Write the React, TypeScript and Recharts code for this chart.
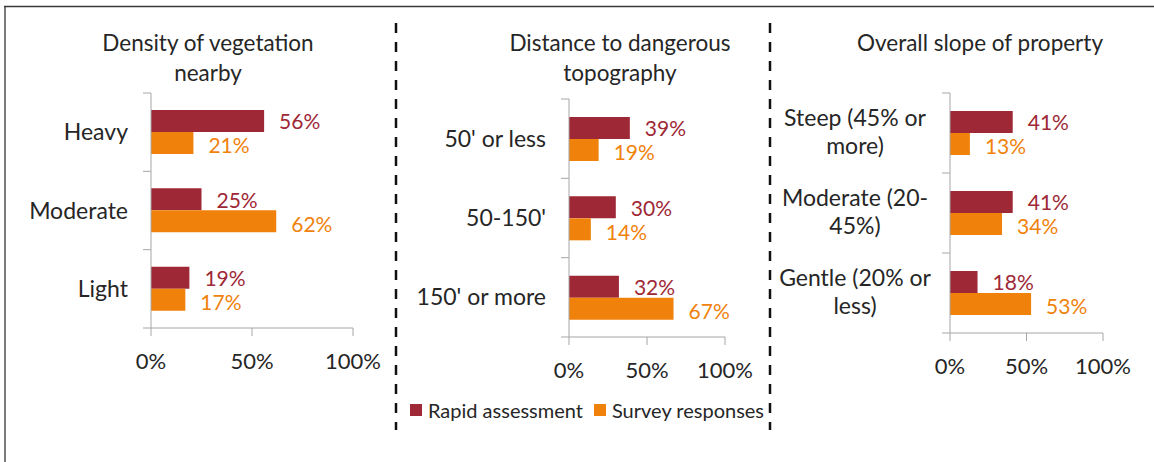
import { Bar, BarChart, LabelList, Legend, XAxis, YAxis } from "recharts";

const vegetationCategories = ["Heavy", "Moderate", "Light"];
const vegetationRapid = [56, 25, 19];
const vegetationSurvey = [21, 62, 17];

const topographyCategories = ["50' or less", "50-150'", "150' or more"];
const topographyRapid = [39, 30, 32];
const topographySurvey = [19, 14, 67];

const slopeCategories = [["Steep (45% or", "more)"], ["Moderate (20-", "45%)"], ["Gentle (20% or", "less)"]];
const slopeRapid = [41, 41, 18];
const slopeSurvey = [13, 34, 53];

const percentTicks = [0, 50, 100];
const seriesNames = ["Rapid assessment", "Survey responses"];

const MAROON = "#9E2836";
const ORANGE = "#F0820C";
const TEXT = "#262626";
const AXIS = "#a6a6a6";
const FONT = "Lato, 'Open Sans', sans-serif";

type Panel = {
  left: number;
  width: number;
  plotLeft: number;
  plotRight: number;
  plotTop: number;
  plotBottom: number;
  labels: string[][];
  rapid: number[];
  survey: number[];
  legend?: boolean;
};

const H = 462;
const XH = 40;

function CategoryTick(props: any & { panel: Panel }) {
  const { y, payload, index, panel } = props;
  const band = (panel.plotBottom - panel.plotTop) / panel.labels.length;
  const ax = panel.plotLeft - panel.left;
  const lines: string[] = panel.labels[index] ?? [String(payload.value)];
  const top = y - band / 2;
  return (
    <g>
      <line x1={ax - 8} x2={ax} y1={top} y2={top} stroke={AXIS} />
      {index === panel.labels.length - 1 && (
        <line x1={ax - 8} x2={ax} y1={top + band} y2={top + band} stroke={AXIS} />
      )}
      {lines.length === 1 ? (
        <text x={ax - 23} y={y} dy="0.35em" textAnchor="end" fontSize={23} fill={TEXT}>
          {lines[0]}
        </text>
      ) : (
        <text textAnchor="middle" fontSize={23} fill={TEXT}>
          <tspan x={ax - 95} y={y - 15} dy="0.35em">{lines[0]}</tspan>
          <tspan x={ax - 95} y={y + 13} dy="0.35em">{lines[1]}</tspan>
        </text>
      )}
    </g>
  );
}

function LegendContent() {
  const colors = [MAROON, ORANGE];
  return (
    <div style={{ display: "flex", justifyContent: "center", alignItems: "center", fontSize: 20, color: TEXT, lineHeight: "22px" }}>
      {seriesNames.map((n, i) => (
        <span key={n} style={{ display: "inline-flex", alignItems: "center", marginRight: i === 0 ? 11 : 0 }}>
          <span style={{ width: 12, height: 12, background: colors[i], display: "inline-block", marginRight: 6 }} />
          {n}
        </span>
      ))}
    </div>
  );
}

function PanelChart({ panel }: { panel: Panel }) {
  const data = panel.labels.map((l, i) => ({
    name: l.join(" "),
    rapid: panel.rapid[i],
    survey: panel.survey[i],
  }));
  return (
    <div style={{ position: "absolute", left: panel.left, top: 0 }}>
      <BarChart
        width={panel.width}
        height={H}
        data={data}
        layout="vertical"
        barSize={22}
        barGap={0}
        margin={{
          top: panel.plotTop,
          right: panel.left + panel.width - panel.plotRight,
          bottom: H - panel.plotBottom - XH,
          left: 0,
        }}
      >
        <XAxis
          type="number"
          domain={[0, 100]}
          ticks={percentTicks}
          tickFormatter={(v) => `${v}%`}
          height={XH}
          tickSize={8}
          tickMargin={17}
          axisLine={{ stroke: AXIS }}
          tickLine={{ stroke: AXIS }}
          tick={{ fill: TEXT, fontSize: 22 }}
          interval={0}
        />
        <YAxis
          type="category"
          dataKey="name"
          width={panel.plotLeft - panel.left}
          axisLine={{ stroke: AXIS }}
          tickLine={false}
          tickSize={8}
          interval={0}
          tick={(p: any) => <CategoryTick {...p} panel={panel} />}
        />
        {panel.legend && (
          <Legend
            layout="horizontal"
            verticalAlign="middle"
            align="center"
            content={<LegendContent />}
            wrapperStyle={{ top: 399, left: 4, width: panel.width }}
          />
        )}
        <Bar dataKey="rapid" name={seriesNames[0]} fill={MAROON} isAnimationActive={false}>
          <LabelList dataKey="rapid" position="right" offset={15} dy={1} fill={MAROON} fontSize={21} formatter={(v: any) => `${v}%`} />
        </Bar>
        <Bar dataKey="survey" name={seriesNames[1]} fill={ORANGE} isAnimationActive={false}>
          <LabelList dataKey="survey" position="right" offset={15} dy={3} fill={ORANGE} fontSize={21} formatter={(v: any) => `${v}%`} />
        </Bar>
      </BarChart>
    </div>
  );
}

const panels: Panel[] = [
  {
    left: 0, width: 394, plotLeft: 151, plotRight: 353, plotTop: 93, plotBottom: 328,
    labels: vegetationCategories.map((c) => [c]), rapid: vegetationRapid, survey: vegetationSurvey,
  },
  {
    left: 396, width: 374, plotLeft: 569, plotRight: 725, plotTop: 99, plotBottom: 337,
    labels: topographyCategories.map((c) => [c]), rapid: topographyRapid, survey: topographySurvey, legend: true,
  },
  {
    left: 770, width: 384, plotLeft: 950, plotRight: 1103, plotTop: 93, plotBottom: 333,
    labels: slopeCategories, rapid: slopeRapid, survey: slopeSurvey,
  },
];

const titles = [
  { text: ["Density of vegetation", "nearby"], cx: 208 },
  { text: ["Distance to dangerous", "topography"], cx: 620 },
  { text: ["Overall slope of property"], cx: 980 },
];

export default function App() {
  return (
    <div style={{ position: "absolute", left: 0, top: 0, width: 1154, height: H, background: "#fff", fontFamily: FONT, overflow: "hidden" }}>
      <svg width={1154} height={H} style={{ position: "absolute", left: 0, top: 0 }}>
        <line x1={5} x2={5} y1={6} y2={H} stroke="#7a7a7a" strokeWidth={2} />
        <line x1={4} x2={1154} y1={6.5} y2={6.5} stroke="#3a3a3a" strokeWidth={1.5} />
        <line x1={396} x2={396} y1={23} y2={430} stroke="#111" strokeWidth={2.5} strokeDasharray="10 9" />
        <line x1={770} x2={770} y1={23} y2={430} stroke="#111" strokeWidth={2.5} strokeDasharray="10 9" />
      </svg>
      {titles.map((t) => (
        <div
          key={t.cx}
          style={{ position: "absolute", left: t.cx - 160, top: 28, width: 320, textAlign: "center", fontSize: 22.5, lineHeight: "30px", color: TEXT }}
        >
          {t.text.map((l) => (
            <div key={l}>{l}</div>
          ))}
        </div>
      ))}
      {panels.map((p) => (
        <PanelChart key={p.left} panel={p} />
      ))}
    </div>
  );
}
